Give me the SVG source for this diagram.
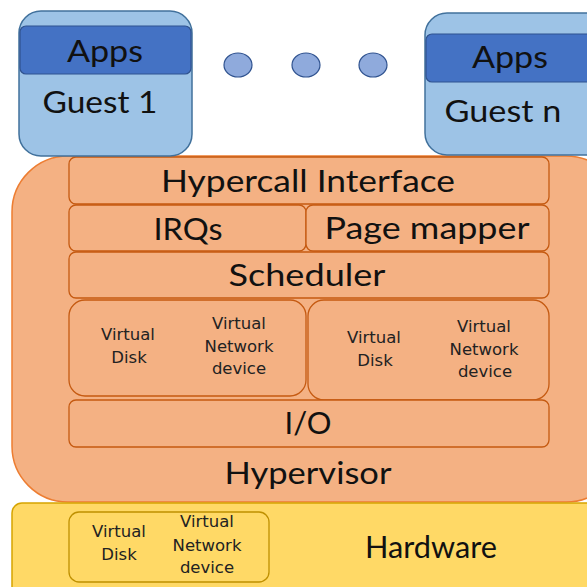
<svg xmlns="http://www.w3.org/2000/svg" width="587" height="587" viewBox="0 0 587 587">
  <style>
    .big { font-family: Lato, "Open Sans", "Liberation Sans", sans-serif; font-size: 30px; fill: #111; text-anchor: middle; }
    .small { font-family: "DejaVu Sans", Verdana, sans-serif; font-size: 16.5px; fill: #222; text-anchor: middle; }
    .guest { fill: #9DC3E6; stroke: #41719C; stroke-width: 1.5; }
    .apps { fill: #4472C4; stroke: #2F528F; stroke-width: 1.2; }
    .dot { fill: #8FAADC; stroke: #2F528F; stroke-width: 1.2; }
    .hv { fill: #F4B183; stroke: #ED7D31; stroke-width: 1.5; }
    .layer { fill: #F4B183; stroke: #C55A11; stroke-width: 1.3; }
    .hw { fill: #FFD966; stroke: #D6A400; stroke-width: 1.5; }
    .hwbox { fill: #FFD966; stroke: #BF9000; stroke-width: 1.3; }
  </style>

  <!-- Hypervisor container -->
  <g id="hypervisor">
    <rect class="hv" x="12" y="156" width="610" height="346" rx="56" ry="56"/>
    <text class="big" x="308" y="484" textLength="167" lengthAdjust="spacingAndGlyphs">Hypervisor</text>
  </g>

  <g id="hypercall">
    <rect class="layer" x="69" y="157" width="480" height="47" rx="7"/>
    <text class="big" x="308" y="192" textLength="294" lengthAdjust="spacingAndGlyphs">Hypercall Interface</text>
  </g>

  <g id="irqs">
    <rect class="layer" x="69" y="205" width="237" height="46" rx="7"/>
    <text class="big" x="188" y="240" textLength="69" lengthAdjust="spacingAndGlyphs">IRQs</text>
  </g>

  <g id="page-mapper">
    <rect class="layer" x="306" y="205" width="243" height="46" rx="7"/>
    <text class="big" x="427" y="239" textLength="205" lengthAdjust="spacingAndGlyphs">Page mapper</text>
  </g>

  <g id="scheduler">
    <rect class="layer" x="69" y="252" width="480" height="46" rx="7"/>
    <text class="big" x="307" y="286" textLength="157" lengthAdjust="spacingAndGlyphs">Scheduler</text>
  </g>

  <g id="virtual-devices-1">
    <rect class="layer" x="69" y="300" width="237" height="96" rx="16"/>
    <text class="small" x="128" y="340">Virtual</text>
    <text class="small" x="129" y="363">Disk</text>
    <text class="small" x="239" y="329">Virtual</text>
    <text class="small" x="239" y="352">Network</text>
    <text class="small" x="239" y="374">device</text>
  </g>

  <g id="virtual-devices-2">
    <rect class="layer" x="308" y="300" width="241" height="100" rx="16"/>
    <text class="small" x="374" y="343">Virtual</text>
    <text class="small" x="375" y="366">Disk</text>
    <text class="small" x="484" y="332">Virtual</text>
    <text class="small" x="484" y="355">Network</text>
    <text class="small" x="485" y="377">device</text>
  </g>

  <g id="io">
    <rect class="layer" x="69" y="400" width="480" height="47" rx="7"/>
    <text class="big" x="308" y="434" textLength="47" lengthAdjust="spacingAndGlyphs">I/O</text>
  </g>

  <!-- Hardware layer -->
  <g id="hardware">
    <rect class="hw" x="12" y="503" width="610" height="100" rx="10"/>
    <rect class="hwbox" x="69" y="512" width="200" height="70" rx="10"/>
    <text class="small" x="119" y="537">Virtual</text>
    <text class="small" x="119" y="560">Disk</text>
    <text class="small" x="207" y="527">Virtual</text>
    <text class="small" x="207" y="551">Network</text>
    <text class="small" x="207" y="573">device</text>
    <text class="big" x="431" y="558" font-size="26" textLength="132" lengthAdjust="spacingAndGlyphs">Hardware</text>
  </g>

  <!-- Guests -->
  <g id="guest-1">
    <rect class="guest" x="19" y="11" width="173" height="145" rx="22"/>
    <rect class="apps" x="20" y="26" width="171" height="48" rx="6"/>
    <text class="big" x="105" y="62" textLength="76" lengthAdjust="spacingAndGlyphs">Apps</text>
    <text class="big" x="100" y="113" textLength="115" lengthAdjust="spacingAndGlyphs">Guest 1</text>
  </g>

  <g id="guest-n">
    <rect class="guest" x="425" y="13" width="190" height="142" rx="22"/>
    <rect class="apps" x="426" y="34" width="180" height="48" rx="6"/>
    <text class="big" x="510" y="68" textLength="76" lengthAdjust="spacingAndGlyphs">Apps</text>
    <text class="big" x="503" y="122" textLength="117" lengthAdjust="spacingAndGlyphs">Guest n</text>
  </g>

  <g id="ellipsis">
    <ellipse class="dot" cx="238" cy="65" rx="14" ry="12"/>
    <ellipse class="dot" cx="306" cy="65" rx="14" ry="12"/>
    <ellipse class="dot" cx="373" cy="65" rx="14" ry="12"/>
  </g>

  <g id="connectors"/>
</svg>
